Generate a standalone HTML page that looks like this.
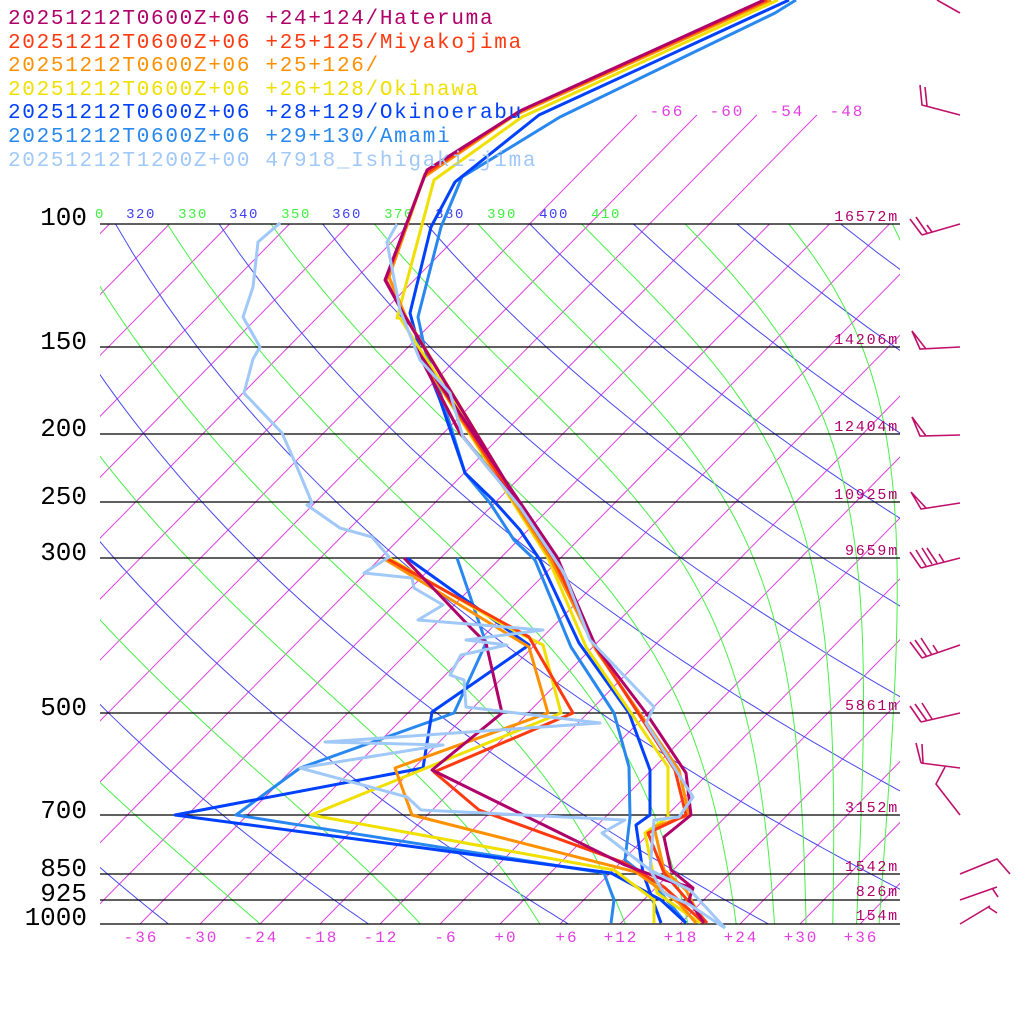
<!DOCTYPE html>
<html><head><meta charset="utf-8"><style>
html,body{margin:0;padding:0;background:#fff;}
svg{display:block;}
text{font-family:"Liberation Mono",monospace;}
</style></head><body>
<svg id="s" width="1024" height="1024" viewBox="0 0 1024 1024" xmlns="http://www.w3.org/2000/svg">
<defs>
<clipPath id="cp"><rect x="100" y="224" width="800" height="700"/></clipPath>
<clipPath id="cp2"><rect x="100" y="100" width="800" height="824"/></clipPath>
</defs>
<g id="bg"></g>
<g stroke="#000" stroke-width="1.2">
<line x1="100" y1="224" x2="900" y2="224"/><line x1="100" y1="347" x2="900" y2="347"/>
<line x1="100" y1="434" x2="900" y2="434"/><line x1="100" y1="502" x2="900" y2="502"/>
<line x1="100" y1="558" x2="900" y2="558"/><line x1="100" y1="713" x2="900" y2="713"/>
<line x1="100" y1="815" x2="900" y2="815"/><line x1="100" y1="874" x2="900" y2="874"/>
<line x1="100" y1="900" x2="900" y2="900"/><line x1="100" y1="924" x2="900" y2="924"/>
</g>
<g font-size="26" fill="#000" text-anchor="end">
<text x="87" y="225">100</text><text x="87" y="349">150</text><text x="87" y="436">200</text>
<text x="87" y="504">250</text><text x="87" y="560">300</text><text x="87" y="715">500</text>
<text x="87" y="818">700</text><text x="87" y="876">850</text><text x="87" y="901">925</text>
<text x="87" y="925">1000</text>
</g>
<g font-size="15" fill="#b0006a" text-anchor="end" letter-spacing="1.8">
<text x="899" y="221">16572m</text><text x="899" y="344">14206m</text><text x="899" y="431">12404m</text>
<text x="899" y="499">10925m</text><text x="899" y="555">9659m</text><text x="899" y="710">5861m</text>
<text x="899" y="812">3152m</text><text x="899" y="871">1542m</text><text x="899" y="896">826m</text>
<text x="899" y="920">154m</text>
</g>
<g font-size="16" fill="#e040e0" text-anchor="middle" letter-spacing="2">
<text x="141" y="942">-36</text><text x="201" y="942">-30</text><text x="261" y="942">-24</text>
<text x="321" y="942">-18</text><text x="381" y="942">-12</text><text x="446" y="942">-6</text>
<text x="506" y="942">+0</text><text x="567" y="942">+6</text><text x="621" y="942">+12</text>
<text x="681" y="942">+18</text><text x="741" y="942">+24</text><text x="801" y="942">+30</text>
<text x="861" y="942">+36</text>
<text x="667" y="116">-66</text><text x="727" y="116">-60</text><text x="787" y="116">-54</text><text x="847" y="116">-48</text>
</g>
<g font-size="14" text-anchor="middle" letter-spacing="1.5">
<text x="100" y="218" fill="#40f040">0</text>
<text x="141" y="218" fill="#4040f0">320</text><text x="193" y="218" fill="#40f040">330</text>
<text x="244" y="218" fill="#4040f0">340</text><text x="296" y="218" fill="#40f040">350</text>
<text x="347" y="218" fill="#4040f0">360</text><text x="399" y="218" fill="#40f040">370</text>
<text x="450" y="218" fill="#4040f0">380</text><text x="502" y="218" fill="#40f040">390</text>
<text x="554" y="218" fill="#4040f0">400</text><text x="606" y="218" fill="#40f040">410</text>
</g>
<g id="ser" fill="none" stroke-width="3" stroke-linejoin="round"></g>
<g font-size="21" letter-spacing="1.7" xml:space="preserve">
<text x="8" y="24" fill="#b0006a">20251212T0600Z+06 +24+124/Hateruma</text>
<text x="8" y="48" fill="#ff3a10">20251212T0600Z+06 +25+125/Miyakojima</text>
<text x="8" y="71" fill="#ff9000">20251212T0600Z+06 +25+126/</text>
<text x="8" y="95" fill="#f0e000">20251212T0600Z+06 +26+128/Okinawa</text>
<text x="8" y="118" fill="#0040ff">20251212T0600Z+06 +28+129/Okinoerabu</text>
<text x="8" y="142" fill="#2888f0">20251212T0600Z+06 +29+130/Amami</text>
<text x="8" y="166" fill="#a0c8f8">20251212T1200Z+00 47918_Ishigaki-jima</text>
</g>
<g fill="none" stroke="#c0106a" stroke-width="1.6">
<path d="M937 0L960 13"/>
<path d="M920 85L922 105L960 115M925 87L927 106"/>
<path d="M960 224L922 235M910 219L922 235M916 217L927 233M927 225L932 232"/>
<path d="M960 347L920 349L912 331L926 349"/>
<path d="M960 435L920 436L912 417L926 436"/>
<path d="M960 503L921 509L911 492L926 508"/>
<path d="M960 558L921 568M910 552L921 568M916 550L926 566M922 548L932 564M927 548L937 563M939 554L944 562"/>
<path d="M960 645L922 658M910 642L922 658M915 640L927 657M921 638L932 655M933 645L938 653"/>
<path d="M960 713L921 722M910 706L921 722M915 704L927 721M922 703L932 719"/>
<path d="M960 768L921 763M916 743L921 763M922 744L923 763M945 767L936 784L960 815"/>
<path d="M960 874L997 859L1010 874"/>
<path d="M960 900L997 887M992 888L998 897"/>
<path d="M960 924L990 906M988 907L997 913"/>
</g>
</svg>
<script>
(function(){
var NS="http://www.w3.org/2000/svg";
function Y(p){return 924-304.0*Math.log(1000/p);}
function X(T,y){return 500+10*T+0.985*(924-y);}
var bg=document.getElementById('bg');
function path(d,col,w,clip){var e=document.createElementNS(NS,'path');e.setAttribute('d',d);e.setAttribute('stroke',col);e.setAttribute('stroke-width',w);e.setAttribute('fill','none');if(clip)e.setAttribute('clip-path','url(#'+clip+')');bg.appendChild(e);}
for(var T=-150;T<=60;T+=6){var yt=(T>=-66&&T<=-48)?115:224;var x1=X(T,924),x2=X(T,yt);
 path('M'+x1+' 924L'+x2+' '+yt,'#e040e0',1,'cp2');}
for(var th=200;th<=520;th+=20){var d='';for(var p=100;p<=1000;p+=10){var t=th*Math.pow(p/1000,0.2857)-273.15;var y=Y(p);d+=(d?'L':'M')+X(t,y).toFixed(1)+' '+y.toFixed(1);}path(d,'#4848f0',1,'cp');}
function es(tc){return 6.112*Math.exp(17.67*tc/(tc+243.5));}
for(var th=230;th<=490;th+=20){var TK=th*Math.pow(0.1,0.2857);var d='';var dp=2;
 for(var p=100;p<=1000;p+=dp){var y=Y(p);d+=(d?'L':'M')+X(TK-273.15,y).toFixed(1)+' '+y.toFixed(1);
  var e=es(TK-273.15);var rs=0.622*e/(p-e);var g=(287*TK+2.5e6*rs)/(p*(1004+2.5e6*2.5e6*rs*0.622/(287*TK*TK)));TK+=g*dp;}
 path(d,'#48f048',1,'cp');}
var ser=document.getElementById('ser');
function s(pts,col){var e=document.createElementNS(NS,'polyline');e.setAttribute('points',pts);e.setAttribute('stroke',col);ser.appendChild(e);}
var TC=' 415,347 440,395 460,433 490,470 520,505 ';
s('686,923 650,880 625,860 630,817 629,767 614,713 571,647 535,560 514,540 490,503 465,473 441,395 425,350 418,317 441,227 462,177 560,117 775,13 796,0','#2888f0');
s('611,923 614,900 604,873 236,815 300,768 454,713 486,643 457,558','#2888f0');
s('661,923 643,873 636,825 650,815 650,770 629,713 579,643 540,560 520,530 493,500 465,473 440,400 420,350 410,313 431,227 455,182 539,115 789,0','#0040ff');
s('686,923 661,900 611,873 175,815 423,768 432,712 529,645 407,558','#0040ff');
s('654,923 654,900 614,870 311,815 561,713 543,645 507,627 389,558','#f0e000');
s('700,923 657,893 645,833 668,817 668,767 586,647 548,558'+TC+'400,318 397,318 434,180 522,117 778,0','#f0e000');
s('696,923 679,903 636,872 412,815 395,768 548,713 529,647 386,560','#ff9000');
s('703,923 686,890 664,870 654,827 689,815 679,770 596,650 550,558'+TC+'406,317 389,277 424,177 515,115 771,0','#ff9000');
s('704,923 664,887 625,863 479,810 434,772 573,713 529,637 386,558','#ff3a10');
s('707,923 664,873 648,833 686,815 675,770 596,648 553,558'+TC+'404,315 386,280 425,174 518,112 767,0','#ff3a10');
s('693,888 665,880 625,865 432,770 502,713 486,643 471,628 432,587 404,558','#b0006a');
s('704,923 689,900 693,888 671,870 664,837 691,815 686,773 646,713 596,647 557,557'+TC+'403,313 385,280 427,170 522,110 764,0','#b0006a');
s('725,928 690,905 664,893 650,870 602,833 625,820 421,810 407,797 300,768 443,745 325,742 600,723 466,707 464,680 450,675 461,655 507,645 466,640 543,630 418,620 443,605 414,588 412,578 364,573 389,557 372,537 340,528 307,505 312,503 297,467 282,433 244,393 253,359 260,347 243,317 253,287 258,242 280,223','#a0c8f8');
s('725,928 690,890 650,870 654,820 679,817 693,797 646,723 654,707 590,640 564,573 520,507 463,437 450,393 420,360 400,310 387,242 397,224','#a0c8f8');
})();
</script>
</body></html>
